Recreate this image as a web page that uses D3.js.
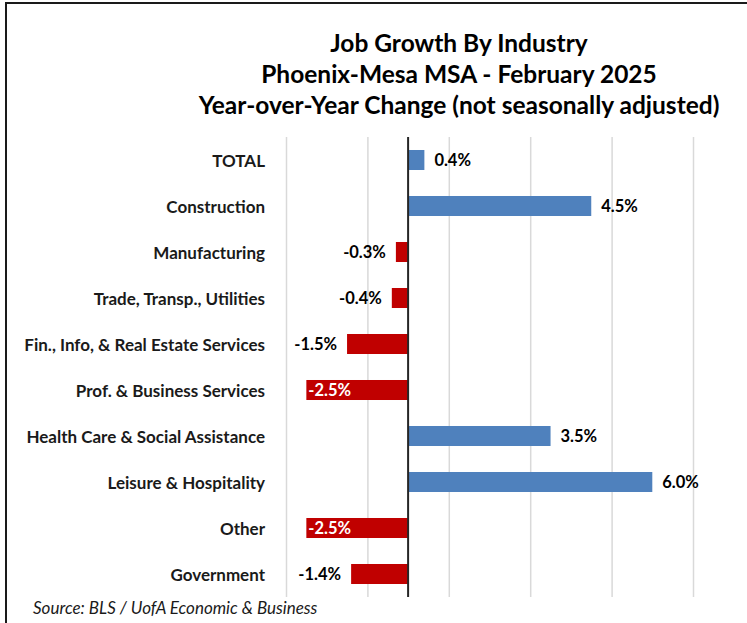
<!DOCTYPE html>
<html>
<head>
<meta charset="utf-8">
<script src="https://cdn.jsdelivr.net/npm/d3@7"></script>
<style>
  html, body { margin: 0; padding: 0; background: #fff; }
  svg { display: block; font-family: Lato, "Open Sans", sans-serif; }
</style>
</head>
<body>
<svg id="chart" width="747" height="623"></svg>
<script>
// ---- data ----
const categories = [
  "TOTAL",
  "Construction",
  "Manufacturing",
  "Trade, Transp., Utilities",
  "Fin., Info, & Real Estate Services",
  "Prof. & Business Services",
  "Health Care & Social Assistance",
  "Leisure & Hospitality",
  "Other",
  "Government"
];
const values = [0.4, 4.5, -0.3, -0.4, -1.5, -2.5, 3.5, 6.0, -2.5, -1.4];
const titleLines = [
  "Job Growth By Industry",
  "Phoenix-Mesa MSA - February 2025",
  "Year-over-Year Change (not seasonally adjusted)"
];
const xDomain = [-3, 7];
const gridTicks = [-3, -1, 1, 3, 5, 7];
const sourceText = "Source: BLS / UofA Economic & Business";

// ---- layout ----
const svg = d3.select("#chart");
const W = 747, H = 623;
const plot = { left: 286, right: 693, top: 137, bottom: 597 };
const blue = "#4F81BD", red = "#C00000";

// frame (left and top edges)
svg.append("line").attr("x1", 6).attr("x2", 6).attr("y1", 2).attr("y2", H)
  .attr("stroke", "#1a1a1a").attr("stroke-width", 2);
svg.append("line").attr("x1", 5).attr("x2", W).attr("y1", 3).attr("y2", 3)
  .attr("stroke", "#1a1a1a").attr("stroke-width", 2);

// title
const titleY = [42, 73, 104];
svg.selectAll("text.title").data(titleLines).join("text")
  .attr("class", "title")
  .attr("x", 459)
  .attr("y", (d, i) => titleY[i])
  .attr("text-anchor", "middle")
  .attr("dominant-baseline", "central")
  .attr("font-size", 24.5)
  .attr("font-weight", "bold")
  .attr("fill", "#000")
  .text(d => d);

const x = d3.scaleLinear().domain(xDomain).range([plot.left, plot.right]);
const p = 0.565;
const y = d3.scaleBand().domain(categories).range([plot.top, plot.bottom])
  .paddingInner(p).paddingOuter(p / 2);

// gridlines
const grid = svg.append("g")
  .attr("transform", `translate(0,${plot.bottom})`)
  .call(d3.axisBottom(x).tickValues(gridTicks).tickSize(-(plot.bottom - plot.top)).tickFormat(""));
grid.select(".domain").remove();
grid.selectAll(".tick line").attr("stroke", "#d9d9d9").attr("stroke-width", 1.5);

// bars
svg.append("g").selectAll("rect").data(values).join("rect")
  .attr("x", d => Math.min(x(0), x(d)))
  .attr("width", d => Math.abs(x(d) - x(0)))
  .attr("y", (d, i) => y(categories[i]))
  .attr("height", y.bandwidth())
  .attr("fill", d => d >= 0 ? blue : red);

// zero axis line
svg.append("line")
  .attr("x1", x(0)).attr("x2", x(0))
  .attr("y1", plot.top).attr("y2", plot.bottom)
  .attr("stroke", "#262626").attr("stroke-width", 2);

// category labels
svg.append("g").selectAll("text").data(categories).join("text")
  .attr("x", 265)
  .attr("y", d => y(d) + y.bandwidth() / 2)
  .attr("text-anchor", "end")
  .attr("dominant-baseline", "central")
  .attr("font-size", 17)
  .attr("font-weight", "bold")
  .attr("fill", "#1a1a1a")
  .text(d => d);

// value labels
const fmt = d => d.toFixed(1) + "%";
const vl = svg.append("g").selectAll("text").data(values).join("text")
  .attr("y", (d, i) => y(categories[i]) + y.bandwidth() / 2)
  .attr("dominant-baseline", "central")
  .attr("font-size", 16.5)
  .attr("font-weight", "bold")
  .text(d => fmt(d));
vl.each(function (d) {
  const t = d3.select(this);
  const w = this.getComputedTextLength();
  if (d >= 0) {
    t.attr("x", x(d) + 10).attr("text-anchor", "start").attr("fill", "#000");
  } else if (x(d) - 10 - w < plot.left) {
    t.attr("x", x(d) + 2).attr("text-anchor", "start").attr("fill", "#fff");
  } else {
    t.attr("x", x(d) - 10).attr("text-anchor", "end").attr("fill", "#000");
  }
});

// source
svg.append("text")
  .attr("x", 33).attr("y", 607)
  .attr("dominant-baseline", "central")
  .attr("font-size", 17)
  .attr("font-style", "italic")
  .attr("fill", "#1a1a1a")
  .text(sourceText);
</script>
</body>
</html>
